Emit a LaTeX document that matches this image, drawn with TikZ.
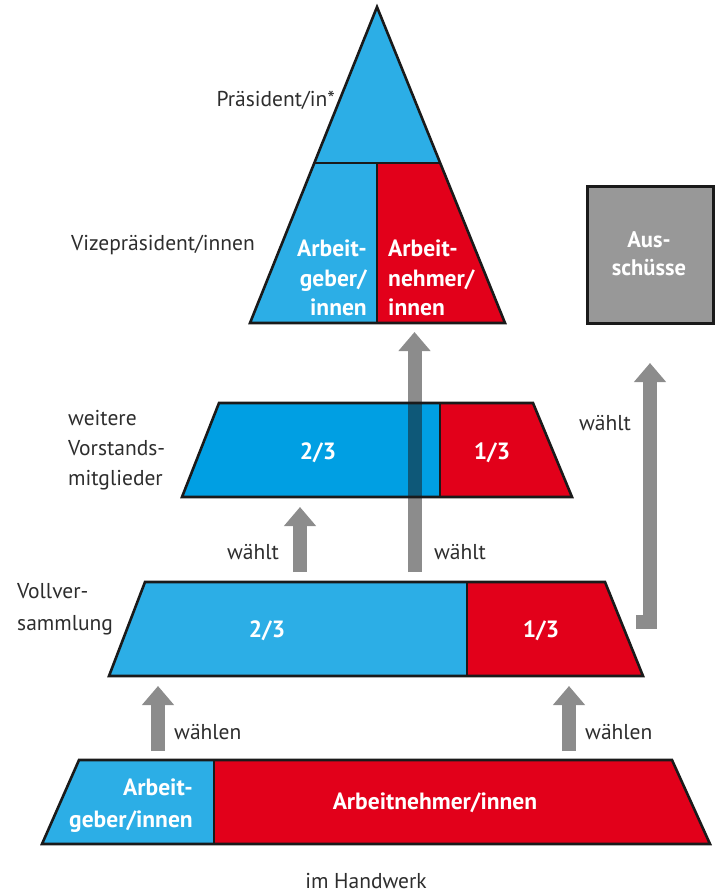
\documentclass[tikz,border=0pt]{standalone}
\usepackage{fontspec}
\setmainfont{PT Sans}
\usetikzlibrary{arrows.meta}
\definecolor{hblue}{RGB}{44,174,230}
\definecolor{vblue}{RGB}{0,159,227}
\definecolor{hred}{RGB}{226,0,26}
\definecolor{hgray}{RGB}{140,140,140}
\definecolor{overlap}{RGB}{14,88,120}
\definecolor{boxgray}{RGB}{152,152,152}
\definecolor{txt}{RGB}{45,45,45}
\definecolor{edge}{RGB}{26,26,26}
\tikzset{
  shape border/.style={draw=edge, line width=2.6pt, line join=miter},
  lbl/.style={text=txt, inner sep=0pt, font=\fontsize{21.5}{30}\selectfont},
  wlbl/.style={text=white, inner sep=0pt, font=\bfseries\fontsize{23.5}{29.5}\selectfont},
  uparrow/.style={draw=hgray, line width=14pt, line join=miter,
    -{Triangle[width=31pt,length=19pt]}}
}
\begin{document}
\begin{tikzpicture}[x=1pt,y=-1pt]
\useasboundingbox (0,0) rectangle (717,893);

% ---- top triangle
\fill[hblue] (377,7) -- (314,163) -- (440,163) -- cycle;
\fill[hblue] (314,163) -- (377,163) -- (377,323) -- (250,323) -- cycle;
\fill[hred] (377,163) -- (440,163) -- (505,323) -- (377,323) -- cycle;
\draw[shape border] (377,7) -- (505,323) -- (250,323) -- cycle;
\draw[shape border] (314,163) -- (440,163);
\draw[shape border] (377,163) -- (377,323);

% ---- Ausschuesse
\node[draw=edge, line width=2.6pt, fill=boxgray, minimum width=126pt, minimum height=137pt,
  inner sep=0pt, anchor=north west] (aus) at (586,185) {};
\node[wlbl, align=center, font=\bfseries\fontsize{22.5}{28}\selectfont] (austxt) at (649,254) {Aus-\\schüsse};

% ---- Vorstand (fills)
\fill[vblue] (219,403) -- (440,403) -- (440,497) -- (182,497) -- cycle;
\fill[hred] (440,403) -- (533,403) -- (572,497) -- (440,497) -- cycle;

% ---- Vollversammlung
\fill[hblue] (145,582) -- (467,582) -- (467,676) -- (109,676) -- cycle;
\fill[hred] (467,582) -- (605,582) -- (643,676) -- (467,676) -- cycle;
\draw[shape border] (145,582) -- (605,582) -- (643,676) -- (109,676) -- cycle;
\draw[shape border] (467,582) -- (467,676);

% ---- bottom layer
\fill[hblue] (79,760) -- (214,760) -- (214,844) -- (42,844) -- cycle;
\fill[hred] (214,760) -- (672,760) -- (710,844) -- (214,844) -- cycle;
\draw[shape border] (79,760) -- (672,760) -- (710,844) -- (42,844) -- cycle;
\draw[shape border] (214,760) -- (214,844);

% ---- coordinates for arrows
\coordinate (bl-from) at (158,751);
\coordinate (bl-to) at (158,686);
\coordinate (br-from) at (569,751);
\coordinate (br-to) at (569,686);
\coordinate (vs-from) at (300,572);
\coordinate (vs-to) at (300,507);
\coordinate (vp-from) at (414.5,572);
\coordinate (vp-to) at (414.5,332);
\coordinate (au-foot) at (636,621.5);
\coordinate (au-bend) at (650,621.5);
\coordinate (au-to) at (650,363);

% ---- arrows
\draw[uparrow] (bl-from) -- (bl-to);
\draw[uparrow] (br-from) -- (br-to);
\draw[uparrow] (vs-from) -- (vs-to);
\draw[uparrow] (au-foot) -- (au-bend) -- (au-to);
\draw[uparrow] (vp-from) -- (vp-to);

% ---- darker overlap where the long arrow crosses the Vorstand layer
\begin{scope}
\clip (219,403) -- (440,403) -- (440,497) -- (182,497) -- cycle;
\fill[overlap] (407.5,400) rectangle (421.5,500);
\end{scope}
\draw[shape border] (219,403) -- (533,403) -- (572,497) -- (182,497) -- cycle;
\draw[shape border] (440,403) -- (440,497);

% ---- white labels
\node[wlbl, align=right, anchor=east] (tl) at (367,278) {Arbeit-\\geber/\\innen};
\node[wlbl, align=left, anchor=west] (tr) at (388,278) {Arbeit-\\nehmer/\\innen};
\node[wlbl] (vs23) at (318,453) {2/3};
\node[wlbl] (vs13) at (492,453) {1/3};
\node[wlbl] (vv23) at (267,631) {2/3};
\node[wlbl] (vv13) at (541,631) {1/3};
\node[wlbl, align=right, anchor=east, font=\bfseries\fontsize{23.5}{32}\selectfont] (bl) at (193,806) {Arbeit-\\geber/innen};
\node[wlbl] (br) at (435,803) {Arbeitnehmer/innen};

% ---- side labels
\node[lbl, anchor=east] (praes) at (335,100) {Präsident/in*};
\node[lbl, anchor=east] (vize) at (255,245) {Vizepräsident/innen};
\node[lbl, align=left, anchor=west] (vorst) at (68,450) {weitere\\Vorstands-\\mitglieder};
\node[lbl, align=left, anchor=west, font=\fontsize{21.5}{32}\selectfont] (voll) at (17,609) {Vollver-\\sammlung};
\node[lbl] (w1) at (253,552) {wählt};
\node[lbl] (w2) at (460,552) {wählt};
\node[lbl] (w3) at (605,423) {wählt};
\node[lbl, anchor=west] (wl1) at (174,732) {wählen};
\node[lbl, anchor=west] (wl2) at (585,732) {wählen};
\node[lbl, anchor=base] (hw) at (366,888) {im Handwerk};
\end{tikzpicture}
\end{document}
